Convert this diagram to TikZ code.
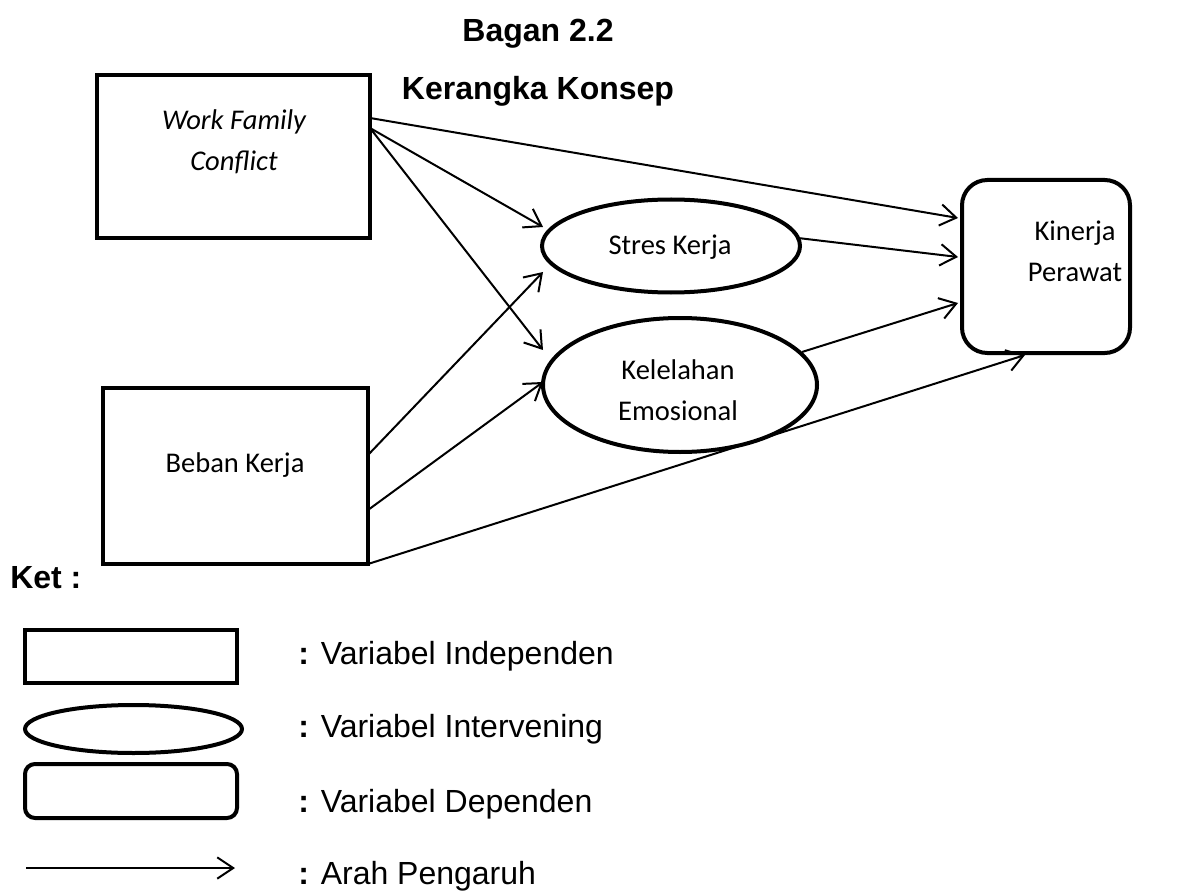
\documentclass[tikz,border=0pt]{standalone}
\usepackage{fontspec}
\newfontfamily\arialf{Liberation Sans}
\newfontfamily\calf{Carlito}
\usetikzlibrary{arrows.meta,shapes.geometric,calc}
\begin{document}
\begin{tikzpicture}[x=0.75pt,y=-0.75pt,
  sqbox/.style={draw, line width=3pt, rectangle, inner sep=0pt, outer sep=0pt},
  ellbox/.style={draw, line width=3pt, ellipse, inner sep=0pt, outer sep=0pt},
  rndbox/.style={draw, line width=3pt, rectangle, rounded corners=19pt, inner sep=0pt, outer sep=0pt},
  cal/.style={font=\calf\fontsize{21.4}{30.75}\selectfont, align=center, inner sep=0pt},
  calit/.style={font=\calf\itshape\fontsize{21.4}{30.75}\selectfont, align=center, inner sep=0pt},
  ari/.style={font=\arialf\fontsize{24}{28}\selectfont, inner sep=0pt},
  arib/.style={font=\arialf\bfseries\fontsize{24}{28}\selectfont, inner sep=0pt},
  conn/.style={line width=1.5pt, -{Straight Barb[length=12pt,width=16pt]}},
]
\useasboundingbox (0,0) rectangle (1195,891);

% title
\node[arib, anchor=base] (t1) at (538,42) {Bagan 2.2};
\node[arib, anchor=base] (t2) at (538,100) {Kerangka Konsep};

% main shapes
\node[sqbox, minimum width=204.75pt, minimum height=122.25pt] (wfc) at (233.5,156.5) {};
\node[sqbox, minimum width=198.75pt, minimum height=132pt] (beban) at (235.5,476) {};
\node[ellbox, minimum width=193.5pt, minimum height=69.75pt] (stres) at (671,246) {};
\node[ellbox, minimum width=205.5pt, minimum height=100.5pt] (kel) at (680,385) {};
\node[rndbox, minimum width=126pt, minimum height=129.75pt] (kin) at (1046,266.5) {};

% texts
\node[calit] (wfct) at (234,142) {Work Family\\Conflict};
\node[cal, anchor=base] (bebant) at (235,472) {Beban Kerja};
\node[cal, anchor=base] (strest) at (670,254) {Stres Kerja};
\node[cal] (kelt) at (678,390) {Kelelahan\\Emosional};
\node[cal] (kint) at (1075,251) {Kinerja\\Perawat};

% connectors
\draw[conn] ($(wfc.north east)+(0,43)$) -- ($(kin.north west)+(-4,38)$);
\draw[conn] ($(wfc.north east)+(0,53)$) -- ($(stres.center)+(-128,-19)$);
\draw[conn] ($(wfc.north east)+(0,53)$) -- ($(kel.center)+(-137,-35)$);
\draw[conn] ($(stres.center)+(127,-8)$) -- ($(kin.north west)+(-4,77)$);
\draw[conn] ($(kel.center)+(122,-33)$) -- ($(kin.north west)+(-4,123)$);
\draw[conn] ($(beban.north east)+(0,67)$) -- ($(stres.center)+(-128,26)$);
\draw[conn] ($(beban.north east)+(0,122)$) -- ($(kel.center)+(-137,-3)$);
\draw[conn] (beban.south east) -- ($(kin.south west)+(63,2)$);

% legend
\node[arib, anchor=base west] (ket) at (10,588) {Ket :};
\node[sqbox, minimum width=159pt, minimum height=39.75pt] (lrect) at (131,656.5) {};
\node[ellbox, minimum width=162.75pt, minimum height=36pt] (lell) at (133.5,729) {};
\node[rndbox, rounded corners=7.5pt, minimum width=159pt, minimum height=40.5pt] (lrnd) at (131,791) {};
\coordinate (la) at (26,868);
\coordinate (lb) at (235,868);
\draw[conn] (la) -- (lb);

\node[ari, anchor=base west] (l1) at (298,664.5) {\textbf{:} Variabel Independen};
\node[ari, anchor=base west] (l2) at (298,737.5) {\textbf{:} Variabel Intervening};
\node[ari, anchor=base west] (l3) at (298,812.5) {\textbf{:} Variabel Dependen};
\node[ari, anchor=base west] (l4) at (298,884.5) {\textbf{:} Arah Pengaruh};
\end{tikzpicture}
\end{document}
